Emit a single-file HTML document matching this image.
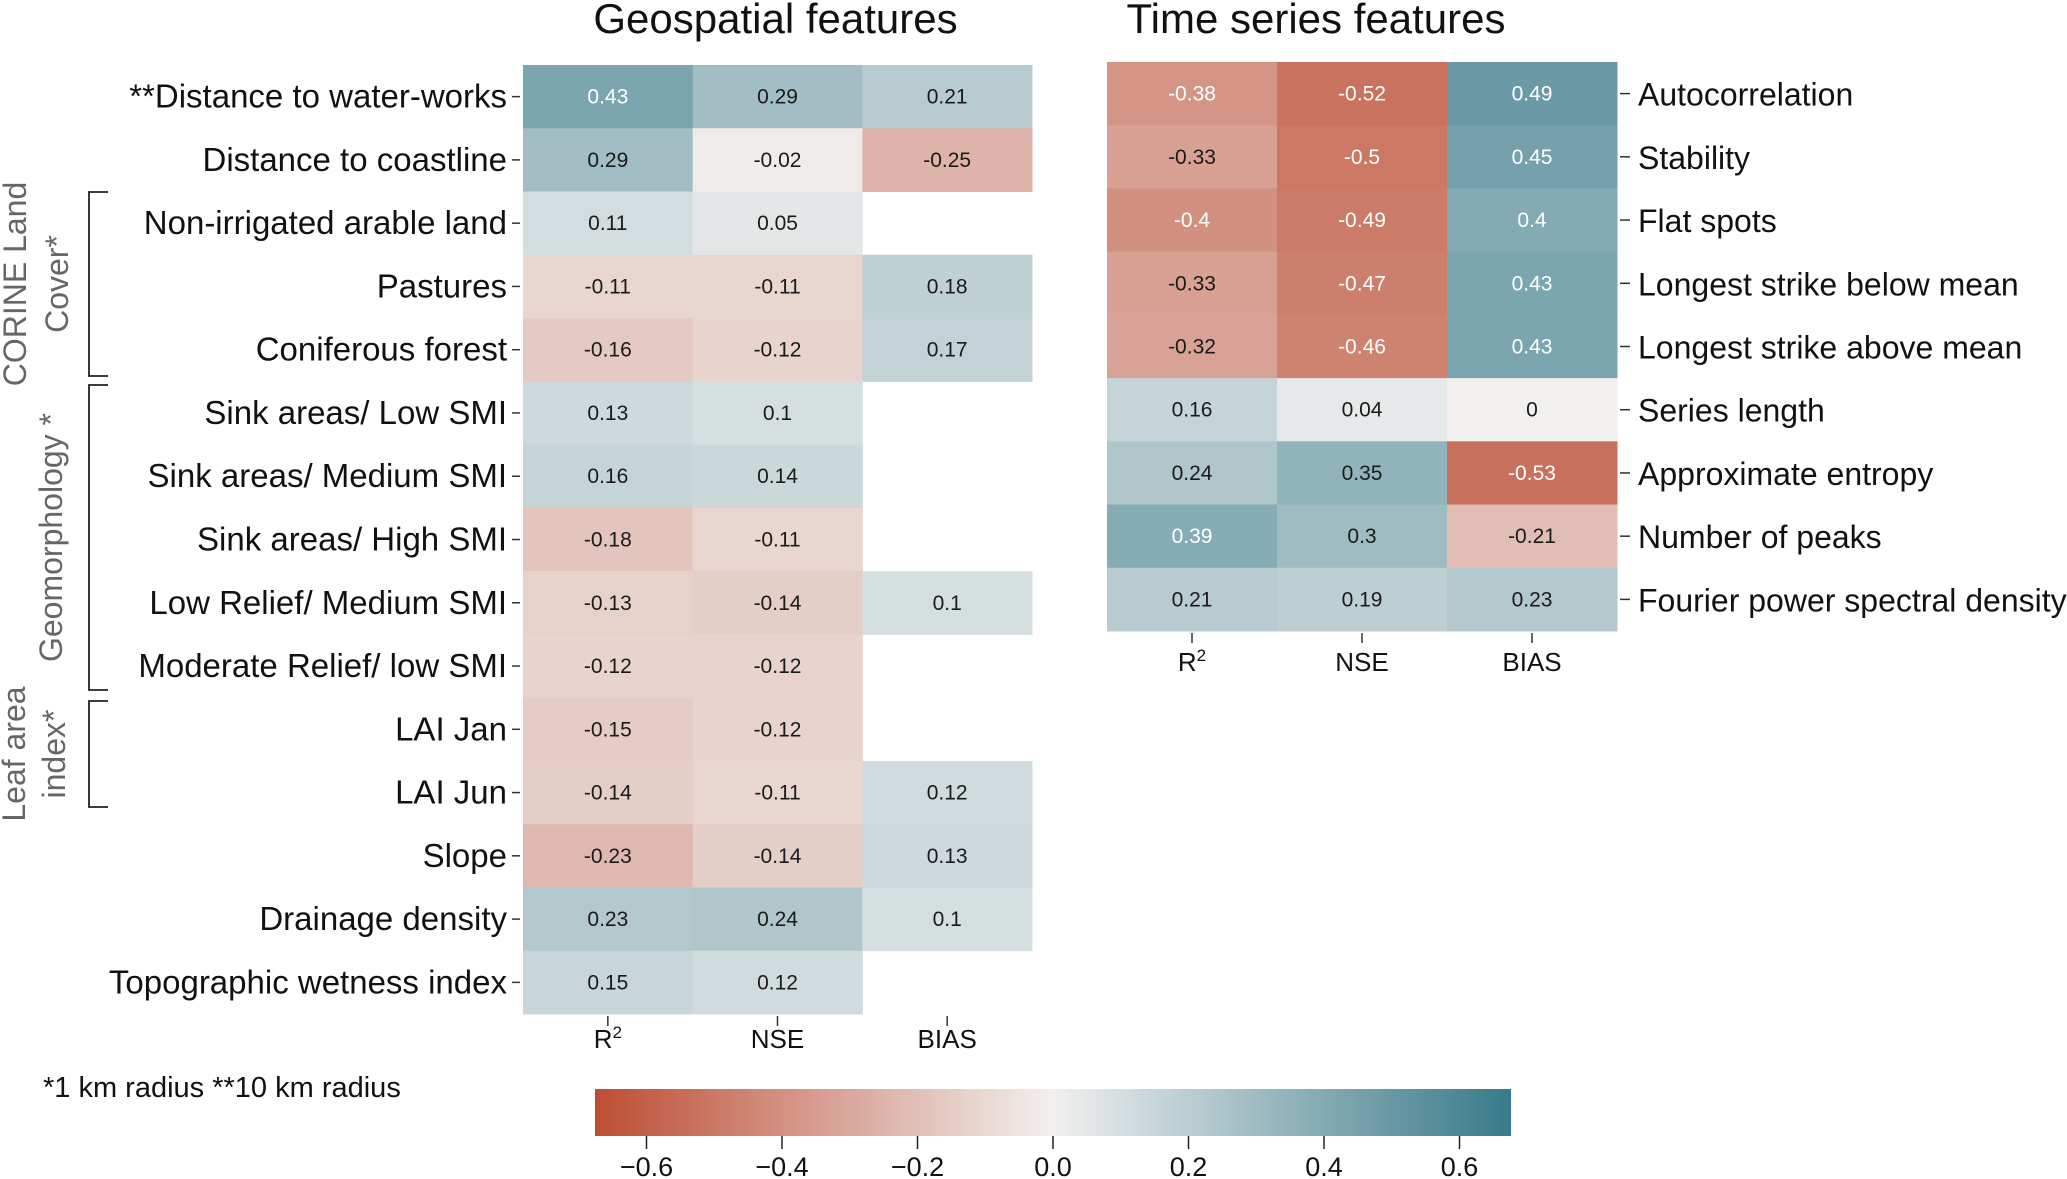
<!DOCTYPE html>
<html><head><meta charset="utf-8"><style>
html,body{margin:0;padding:0;background:#fff}
svg{display:block;font-family:"Liberation Sans",sans-serif}
</style></head><body>
<svg id="chart" width="2067" height="1179" viewBox="0 0 2067 1179" xmlns="http://www.w3.org/2000/svg">
<g id="root"></g>
</svg>
<script>
const metrics = ["R\u00b2","NSE","BIAS"];
const geoLabels = ["**Distance to water-works","Distance to coastline","Non-irrigated arable land","Pastures ","Coniferous forest","Sink areas/ Low SMI","Sink areas/ Medium SMI","Sink areas/ High SMI","Low Relief/ Medium SMI","Moderate Relief/ low SMI","LAI Jan","LAI Jun","Slope","Drainage density","Topographic wetness index"];
const geoR2  = [0.43,0.29,0.11,-0.11,-0.16,0.13,0.16,-0.18,-0.13,-0.12,-0.15,-0.14,-0.23,0.23,0.15];
const geoNSE = [0.29,-0.02,0.05,-0.11,-0.12,0.1,0.14,-0.11,-0.14,-0.12,-0.12,-0.11,-0.14,0.24,0.12];
const geoBIAS= [0.21,-0.25,null,0.18,0.17,null,null,null,0.1,null,null,0.12,0.13,0.1,null];
const tsLabels = ["Autocorrelation","Stability","Flat spots","Longest strike below mean","Longest strike above mean","Series length","Approximate entropy","Number of peaks","Fourier power spectral density"];
const tsR2  = [-0.38,-0.33,-0.4,-0.33,-0.32,0.16,0.24,0.39,0.21];
const tsNSE = [-0.52,-0.5,-0.49,-0.47,-0.46,0.04,0.35,0.3,0.19];
const tsBIAS= [0.49,0.45,0.4,0.43,0.43,0,-0.53,-0.21,0.23];
const cbTicks = [-0.6,-0.4,-0.2,0.0,0.2,0.4,0.6];

const VMAX = 0.676;
const NEG=[189,78,52], MID=[241,240,239], POS=[56,122,138];
function color(v){
  let t=Math.min(1,Math.abs(v)/VMAX); const e=v<0?NEG:POS;
  const c=MID.map((m,i)=>Math.round(m+(e[i]-m)*t));
  return `rgb(${c[0]},${c[1]},${c[2]})`;
}
const NS="http://www.w3.org/2000/svg";
const root=document.getElementById('root');
function el(tag,attrs,parent){const e=document.createElementNS(NS,tag);for(const k in attrs)e.setAttribute(k,attrs[k]);(parent||root).appendChild(e);return e;}
function txt(s,attrs,parent){const e=el('text',attrs,parent);e.textContent=s;return e;}
function fmt(v){return v===0?"0":String(v);}

function heatmap(cfg){
  const g=el('g',{});
  
  
  const cols=[cfg.r2,cfg.nse,cfg.bias];
  const cw=(cfg.x1-cfg.x0)/3, rh=(cfg.y1-cfg.y0)/cfg.labels.length;
  const xs=i=>cfg.x0+i*cw, ys=j=>cfg.y0+j*rh;
  cfg.labels.forEach((lab,j)=>{
    cols.forEach((arr,i)=>{
      const v=arr[j]; if(v===null||v===undefined) return;
      const r=el('rect',{x:xs(i),y:ys(j),width:cw+0.5,height:rh+0.5,fill:color(v)},g);
      
      
      const t=txt(fmt(v),{x:xs(i)+cw/2,y:ys(j)+rh/2+7,'text-anchor':'middle','font-size':21,fill:Math.abs(v)>0.355?'#fff':'#1a1a1a'},g);
      
      
    });
    const cy=ys(j)+rh/2;
    if(cfg.side==='left'){
      el('line',{x1:cfg.x0-11,x2:cfg.x0-3,y1:cy,y2:cy,stroke:'#333','stroke-width':1.5},g);
      const t=txt(lab,{x:cfg.x0-16,y:cy+11,'text-anchor':'end','font-size':33,fill:'#111'},g);
      
      
    }else{
      el('line',{x1:cfg.x1+3,x2:cfg.x1+13,y1:cy,y2:cy,stroke:'#333','stroke-width':1.5},g);
      const t=txt(lab,{x:cfg.x1+21,y:cy+12,'text-anchor':'start','font-size':32,fill:'#111'},g);
      
      
    }
  });
  metrics.forEach((m,i)=>{
    const cx=xs(i)+cw/2;
    el('line',{x1:cx,x2:cx,y1:cfg.y1+2,y2:cfg.y1+12,stroke:'#333','stroke-width':1.5},g);
    const t=el('text',{x:cx,y:cfg.y1+cfg.labDy,'text-anchor':'middle','font-size':26,fill:'#111'},g);
    if(i===0){t.innerHTML='R<tspan dy="-10" font-size="17">2</tspan>';}else t.textContent=m;
    
    
  });
  const tt=txt(cfg.title,{x:(cfg.x0+cfg.x1)/2+cfg.titleDx,y:33,'text-anchor':'middle','font-size':42,fill:'#111'},g);
  
  
}
heatmap({name:'geospatial-heatmap',labels:geoLabels,r2:geoR2,nse:geoNSE,bias:geoBIAS,x0:523,x1:1032,y0:65,y1:1014,side:'left',title:'Geospatial features',titleDx:-2,labDy:34});
heatmap({name:'timeseries-heatmap',labels:tsLabels,r2:tsR2,nse:tsNSE,bias:tsBIAS,x0:1107,x1:1617,y0:62,y1:631,side:'right',title:'Time series features',titleDx:-46,labDy:40});

// group brackets
function bracket(name,y0,y1,lines,cx){
  const g=el('g',{});
  
  
  el('path',{d:`M108 ${y0} H89 V${y1} H108`,fill:'none',stroke:'#222','stroke-width':1.8},g);
  const cy=(y0+y1)/2;
  lines.forEach((s,i)=>{
    txt(s,{x:0,y:0,'text-anchor':'middle','font-size':32,fill:'#666',transform:`translate(${cx[i]},${cy}) rotate(-90)`},g);
  });
}
bracket('corine-group-bracket',192,376,['CORINE Land','Cover*'],[26,68]);
bracket('geomorphology-group-bracket',385,690,['Geomorphology *'],[62]);
bracket('lai-group-bracket',701,807,['Leaf area','index*'],[25,65]);

const fn=txt('*1 km radius  **10 km radius',{x:43,y:1097,'font-size':29,fill:'#111'});



// colorbar
const cb=el('g',{});


const defs=el('defs',{},cb);
const lg=el('linearGradient',{id:'cbg',x1:0,x2:1,y1:0,y2:0},defs);
for(let k=0;k<=20;k++){const v=-VMAX+2*VMAX*k/20;el('stop',{offset:(k/20),'stop-color':color(v)},lg);}
const CB0=595,CB1=1511;
el('rect',{x:CB0,y:1089,width:CB1-CB0,height:47,fill:'url(#cbg)'},cb);
const cbx=v=>CB0+(v+VMAX)/(2*VMAX)*(CB1-CB0);
cbTicks.forEach(v=>{
  const x=cbx(v);
  el('line',{x1:x,x2:x,y1:1136,y2:1149,stroke:'#222','stroke-width':1.5},cb);
  const t=txt(v.toFixed(1).replace('-','\u2212'),{x:x,y:1176,'text-anchor':'middle','font-size':27,fill:'#111'},cb);
  
  
});
</script>
</body></html>
